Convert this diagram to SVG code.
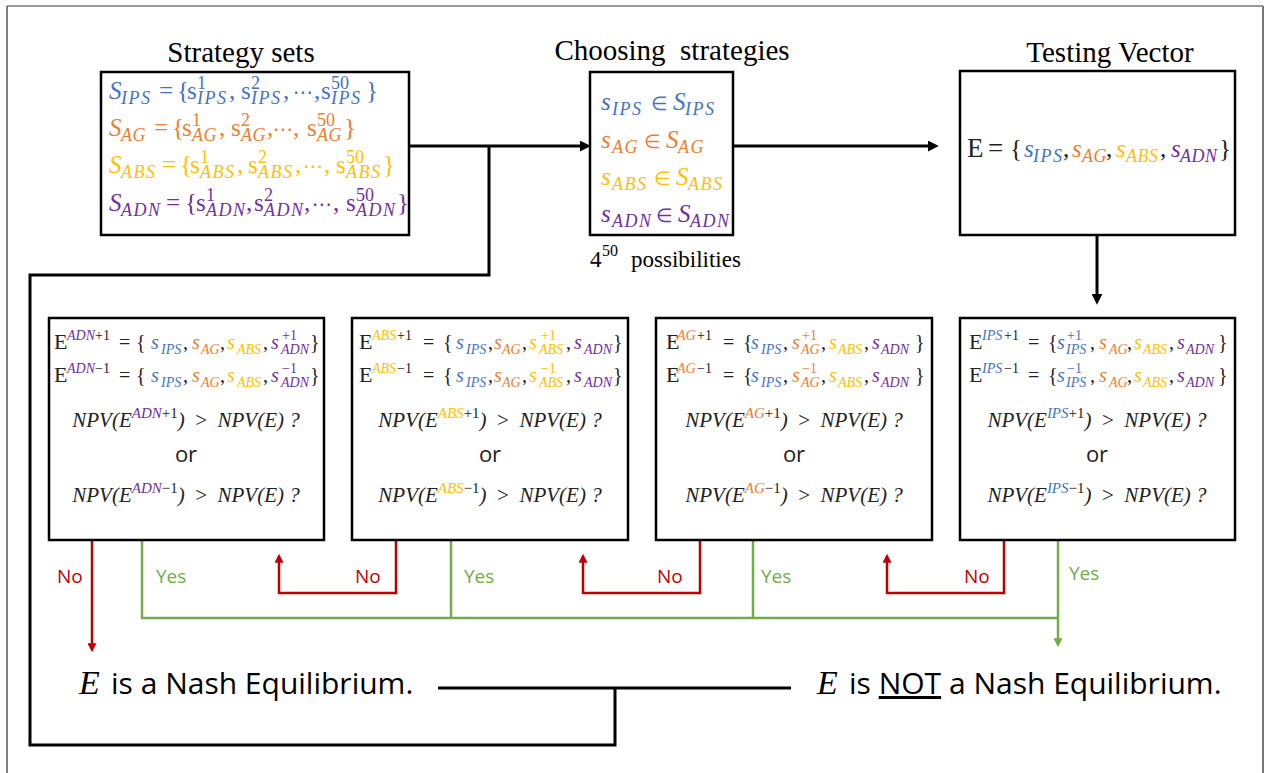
<svg xmlns="http://www.w3.org/2000/svg" width="1272" height="773" viewBox="0 0 1272 773">
<style>
.t{font-family:"Liberation Serif",serif;font-size:29px;fill:#000;text-anchor:middle}
.m{font-family:"Liberation Serif",serif}
.i{font-style:italic}
.u{font-style:normal}
.sb{font-style:italic;font-size:18px;letter-spacing:1.5px}
.sb2{font-style:italic;font-size:18px;letter-spacing:0.5px}
.sp{font-size:18px}
.sym{font-family:"DejaVu Sans",sans-serif;font-style:normal}
.sans{font-family:"Open Sans",sans-serif}
.cb{fill:#4472C4}.co{fill:#ED7D31}.cy{fill:#FFC000}.cp{fill:#7030A0}.ck{fill:#222}
.box{fill:#fff;stroke:#000;stroke-width:2.5}
.k{fill:none;stroke:#000;stroke-width:3}
.r{fill:none;stroke:#C00000;stroke-width:2.5}
.g{fill:none;stroke:#70AD47;stroke-width:2.5}
.lr{fill:#C00000;font-family:"Open Sans",sans-serif;font-size:19px}
.lg{fill:#70AD47;font-family:"Open Sans",sans-serif;font-size:19px}
</style>
<defs>
<marker id="ak" viewBox="0 0 10 10" refX="2" refY="5" markerWidth="11" markerHeight="11" markerUnits="userSpaceOnUse" orient="auto"><path d="M0,0L10,5L0,10z" fill="#000"/></marker>
<marker id="ar" viewBox="0 0 10 10" refX="2" refY="5" markerWidth="9" markerHeight="9" markerUnits="userSpaceOnUse" orient="auto"><path d="M0,0L10,5L0,10z" fill="#C00000"/></marker>
<marker id="ag" viewBox="0 0 10 10" refX="2" refY="5" markerWidth="9" markerHeight="9" markerUnits="userSpaceOnUse" orient="auto"><path d="M0,0L10,5L0,10z" fill="#70AD47"/></marker>
</defs>
<rect width="1272" height="773" fill="#fff"/>
<g id="frame">
<line x1="7" y1="6" x2="1263" y2="6" stroke="#9a9a9a" stroke-width="2"/>
<line x1="7" y1="6" x2="7" y2="773" stroke="#555" stroke-width="1.5"/>
<line x1="1263" y1="6" x2="1263" y2="773" stroke="#777" stroke-width="2"/>
</g>

<g id="connectors">
<path class="k" d="M409,146H582" marker-end="url(#ak)"/>
<path class="k" d="M489,146V275H30V745H615V688"/>
<path class="k" d="M438,688H791"/>
<path class="k" d="M733,146H930" marker-end="url(#ak)"/>
<path class="k" d="M1097,235V296" marker-end="url(#ak)"/>
<path class="r" d="M92,540V645" marker-end="url(#ar)"/>
<path class="r" d="M396,540V593H279V561" marker-end="url(#ar)"/>
<path class="r" d="M700,540V593H583V561" marker-end="url(#ar)"/>
<path class="r" d="M1004,540V593H887V561" marker-end="url(#ar)"/>
<path class="g" d="M142,540V618H1058"/>
<path class="g" d="M451,540V618"/>
<path class="g" d="M753,540V618"/>
<path class="g" d="M1058,540V640" marker-end="url(#ag)"/>
<text class="lr" x="57" y="583">No</text>
<text class="lg" x="156" y="583">Yes</text>
<text class="lr" x="355" y="583">No</text>
<text class="lg" x="464" y="583">Yes</text>
<text class="lr" x="657" y="583">No</text>
<text class="lg" x="761" y="583">Yes</text>
<text class="lr" x="964" y="583">No</text>
<text class="lg" x="1069" y="580">Yes</text>
</g>

<g id="strategy-sets">
<text class="t" x="241" y="62">Strategy sets</text>
<rect class="box" x="101" y="72" width="308" height="163"/>
<text class="m cb" font-size="25"><tspan class="i" x="109" y="99">S</tspan><tspan class="sb" x="121" y="104">IPS</tspan><tspan x="159" y="99">=</tspan><tspan x="177" y="99">{</tspan><tspan x="187" y="99">s</tspan><tspan class="sp" x="197" y="89">1</tspan><tspan class="sb" x="197" y="104">IPS</tspan><tspan x="229" y="99">,</tspan><tspan x="241" y="99">s</tspan><tspan class="sp" x="251" y="89">2</tspan><tspan class="sb" x="251" y="104">IPS</tspan><tspan x="283" y="99">,</tspan><tspan class="sym" x="293" y="99" font-size="20">⋯</tspan><tspan x="314" y="99">,</tspan><tspan x="321" y="99">s</tspan><tspan class="sp" x="331" y="89">50</tspan><tspan class="sb" x="331" y="104">IPS</tspan><tspan x="366" y="99">}</tspan></text>
<text class="m co" font-size="25"><tspan class="i" x="109" y="136">S</tspan><tspan class="sb2" x="121" y="141">AG</tspan><tspan x="154" y="136">=</tspan><tspan x="172" y="136">{</tspan><tspan x="182" y="136">s</tspan><tspan class="sp" x="192" y="126">1</tspan><tspan class="sb2" x="192" y="141">AG</tspan><tspan x="219" y="136">,</tspan><tspan x="231" y="136">s</tspan><tspan class="sp" x="241" y="126">2</tspan><tspan class="sb2" x="241" y="141">AG</tspan><tspan x="267" y="136">,</tspan><tspan class="sym" x="273" y="136" font-size="20">⋯</tspan><tspan x="293" y="136">,</tspan><tspan x="307" y="136">s</tspan><tspan class="sp" x="317" y="126">50</tspan><tspan class="sb2" x="317" y="141">AG</tspan><tspan x="344" y="136">}</tspan></text>
<text class="m cy" font-size="25"><tspan class="i" x="109" y="173">S</tspan><tspan class="sb" x="121" y="178">ABS</tspan><tspan x="162" y="173">=</tspan><tspan x="180" y="173">{</tspan><tspan x="190" y="173">s</tspan><tspan class="sp" x="200" y="163">1</tspan><tspan class="sb" x="200" y="178">ABS</tspan><tspan x="237" y="173">,</tspan><tspan x="248" y="173">s</tspan><tspan class="sp" x="258" y="163">2</tspan><tspan class="sb" x="258" y="178">ABS</tspan><tspan x="295" y="173">,</tspan><tspan class="sym" x="303" y="173" font-size="20">⋯</tspan><tspan x="324" y="173">,</tspan><tspan x="336" y="173">s</tspan><tspan class="sp" x="346" y="163">50</tspan><tspan class="sb" x="346" y="178">ABS</tspan><tspan x="383" y="173">}</tspan></text>
<text class="m cp" font-size="25"><tspan class="i" x="109" y="211">S</tspan><tspan class="sb" x="121" y="216" letter-spacing="1">ADN</tspan><tspan x="166" y="211">=</tspan><tspan x="185" y="211">{</tspan><tspan x="196" y="211">s</tspan><tspan class="sp" x="206" y="201">1</tspan><tspan class="sb" x="206" y="216" letter-spacing="1">ADN</tspan><tspan x="246" y="211">,</tspan><tspan x="254" y="211">s</tspan><tspan class="sp" x="264" y="201">2</tspan><tspan class="sb" x="264" y="216" letter-spacing="1">ADN</tspan><tspan x="304" y="211">,</tspan><tspan class="sym" x="312" y="211" font-size="20">⋯</tspan><tspan x="333" y="211">,</tspan><tspan x="346" y="211">s</tspan><tspan class="sp" x="356" y="201">50</tspan><tspan class="sb" x="356" y="216" letter-spacing="1">ADN</tspan><tspan x="397" y="211">}</tspan></text>
</g>

<g id="choosing-strategies">
<text class="t" x="672" y="60" xml:space="preserve">Choosing  strategies</text>
<rect class="box" x="590" y="72" width="143" height="163"/>
<text class="m i cb" font-size="25"><tspan x="601" y="110">s</tspan><tspan class="sb" x="612" y="115">IPS</tspan><tspan class="sym" x="651" y="110" font-size="19">∈</tspan><tspan x="673" y="110">S</tspan><tspan class="sb" x="685" y="115">IPS</tspan></text>
<text class="m i co" font-size="25"><tspan x="601" y="148">s</tspan><tspan class="sb" x="612" y="153">AG</tspan><tspan class="sym" x="644" y="148" font-size="19">∈</tspan><tspan x="666" y="148">S</tspan><tspan class="sb" x="678" y="153">AG</tspan></text>
<text class="m i cy" font-size="25"><tspan x="601" y="185">s</tspan><tspan class="sb" x="612" y="190">ABS</tspan><tspan class="sym" x="654" y="185" font-size="19">∈</tspan><tspan x="676" y="185">S</tspan><tspan class="sb" x="688" y="190">ABS</tspan></text>
<text class="m i cp" font-size="25"><tspan x="601" y="222">s</tspan><tspan class="sb" x="612" y="227" letter-spacing="1">ADN</tspan><tspan class="sym" x="656" y="222" font-size="19">∈</tspan><tspan x="678" y="222">S</tspan><tspan class="sb" x="690" y="227" letter-spacing="1">ADN</tspan></text>
<text class="m" font-size="23" fill="#000"><tspan x="590" y="267">4</tspan><tspan x="602" y="256" font-size="16">50</tspan><tspan x="631" y="267">possibilities</tspan></text>
</g>

<g id="testing-vector">
<text class="t" x="1110" y="62">Testing Vector</text>
<rect class="box" x="960" y="71" width="275" height="164"/>
<text class="m" font-size="25"><tspan class="ck" x="967" y="157" font-size="27">E</tspan><tspan class="ck" x="988" y="157" font-size="27">=</tspan><tspan class="ck" x="1010" y="157">{</tspan><tspan class="i cb" x="1024" y="157">s</tspan><tspan class="sb cb" x="1033" y="162">IPS</tspan><tspan class="ck" x="1063" y="157">,</tspan><tspan class="i co" x="1072" y="157">s</tspan><tspan class="sb2 co" x="1082" y="162">AG</tspan><tspan class="ck" x="1106" y="157">,</tspan><tspan class="i cy" x="1116" y="157">s</tspan><tspan class="sb2 cy" x="1126" y="162">ABS</tspan><tspan class="ck" x="1160" y="157">,</tspan><tspan class="i cp" x="1171" y="157">s</tspan><tspan class="sb2 cp" x="1180" y="162">ADN</tspan><tspan class="ck" x="1219" y="157">}</tspan></text>
</g>

<g id="test-adn">
<rect class="box" x="49" y="318" width="275" height="222"/>
<text class="m" font-size="20"><tspan class="ck" x="54" y="349" font-size="22">E</tspan><tspan class="i cp" x="67" y="340" font-size="14">ADN</tspan><tspan class="ck" x="95" y="340" font-size="14">+1</tspan><tspan class="ck" x="119" y="349">=</tspan><tspan class="ck" x="136" y="349">{</tspan><tspan class="i cb" x="151" y="349">s</tspan><tspan class="i cb" x="161" y="354" font-size="14">IPS</tspan><tspan class="ck" x="183" y="349">,</tspan><tspan class="i co" x="192" y="349">s</tspan><tspan class="i co" x="201" y="354" font-size="14">AG</tspan><tspan class="ck" x="220" y="349">,</tspan><tspan class="i cy" x="227" y="349">s</tspan><tspan class="i cy" x="237" y="354" font-size="14">ABS</tspan><tspan class="ck" x="263" y="349">,</tspan><tspan class="i cp" x="271" y="349">s</tspan><tspan class="cp" x="282" y="340" font-size="14">+1</tspan><tspan class="i cp" x="281" y="354" font-size="14">ADN</tspan><tspan class="ck" x="310" y="349">}</tspan></text>
<text class="m" font-size="20"><tspan class="ck" x="54" y="382" font-size="22">E</tspan><tspan class="i cp" x="67" y="373" font-size="14">ADN</tspan><tspan class="ck" x="95" y="373" font-size="14">−1</tspan><tspan class="ck" x="119" y="382">=</tspan><tspan class="ck" x="136" y="382">{</tspan><tspan class="i cb" x="151" y="382">s</tspan><tspan class="i cb" x="161" y="387" font-size="14">IPS</tspan><tspan class="ck" x="183" y="382">,</tspan><tspan class="i co" x="192" y="382">s</tspan><tspan class="i co" x="201" y="387" font-size="14">AG</tspan><tspan class="ck" x="220" y="382">,</tspan><tspan class="i cy" x="227" y="382">s</tspan><tspan class="i cy" x="237" y="387" font-size="14">ABS</tspan><tspan class="ck" x="263" y="382">,</tspan><tspan class="i cp" x="271" y="382">s</tspan><tspan class="cp" x="282" y="373" font-size="14">−1</tspan><tspan class="i cp" x="281" y="387" font-size="14">ADN</tspan><tspan class="ck" x="310" y="382">}</tspan></text>
<text class="m i ck" font-size="21" x="186" y="427" text-anchor="middle" xml:space="preserve">NPV(E<tspan class="cp" dy="-9" font-size="15">ADN</tspan><tspan class="u" font-size="15">+1</tspan><tspan dy="9">)  <tspan class="u">&gt;</tspan>  NPV(E) ?</tspan></text>
<text class="sans ck" font-size="22" x="186" y="462" text-anchor="middle">or</text>
<text class="m i ck" font-size="21" x="186" y="502" text-anchor="middle" xml:space="preserve">NPV(E<tspan class="cp" dy="-9" font-size="15">ADN</tspan><tspan class="u" font-size="15">−1</tspan><tspan dy="9">)  <tspan class="u">&gt;</tspan>  NPV(E) ?</tspan></text>
</g>

<g id="test-abs">
<rect class="box" x="352" y="318" width="276" height="222"/>
<text class="m" font-size="20"><tspan class="ck" x="359" y="349" font-size="22">E</tspan><tspan class="i cy" x="372" y="340" font-size="14">ABS</tspan><tspan class="ck" x="397" y="340" font-size="14">+1</tspan><tspan class="ck" x="423" y="349">=</tspan><tspan class="ck" x="443" y="349">{</tspan><tspan class="i cb" x="456" y="349">s</tspan><tspan class="i cb" x="466" y="354" font-size="14">IPS</tspan><tspan class="ck" x="488" y="349">,</tspan><tspan class="i co" x="494" y="349">s</tspan><tspan class="i co" x="502" y="354" font-size="14">AG</tspan><tspan class="ck" x="522" y="349">,</tspan><tspan class="i cy" x="529" y="349">s</tspan><tspan class="cy" x="541" y="340" font-size="14">+1</tspan><tspan class="i cy" x="539" y="354" font-size="14">ABS</tspan><tspan class="ck" x="566" y="349">,</tspan><tspan class="i cp" x="574" y="349">s</tspan><tspan class="i cp" x="584" y="354" font-size="14">ADN</tspan><tspan class="ck" x="613" y="349">}</tspan></text>
<text class="m" font-size="20"><tspan class="ck" x="359" y="382" font-size="22">E</tspan><tspan class="i cy" x="372" y="373" font-size="14">ABS</tspan><tspan class="ck" x="397" y="373" font-size="14">−1</tspan><tspan class="ck" x="423" y="382">=</tspan><tspan class="ck" x="443" y="382">{</tspan><tspan class="i cb" x="456" y="382">s</tspan><tspan class="i cb" x="466" y="387" font-size="14">IPS</tspan><tspan class="ck" x="488" y="382">,</tspan><tspan class="i co" x="494" y="382">s</tspan><tspan class="i co" x="502" y="387" font-size="14">AG</tspan><tspan class="ck" x="522" y="382">,</tspan><tspan class="i cy" x="529" y="382">s</tspan><tspan class="cy" x="541" y="373" font-size="14">−1</tspan><tspan class="i cy" x="539" y="387" font-size="14">ABS</tspan><tspan class="ck" x="566" y="382">,</tspan><tspan class="i cp" x="574" y="382">s</tspan><tspan class="i cp" x="584" y="387" font-size="14">ADN</tspan><tspan class="ck" x="613" y="382">}</tspan></text>
<text class="m i ck" font-size="21" x="490" y="427" text-anchor="middle" xml:space="preserve">NPV(E<tspan class="cy" dy="-9" font-size="15">ABS</tspan><tspan class="u" font-size="15">+1</tspan><tspan dy="9">)  <tspan class="u">&gt;</tspan>  NPV(E) ?</tspan></text>
<text class="sans ck" font-size="22" x="490" y="462" text-anchor="middle">or</text>
<text class="m i ck" font-size="21" x="490" y="502" text-anchor="middle" xml:space="preserve">NPV(E<tspan class="cy" dy="-9" font-size="15">ABS</tspan><tspan class="u" font-size="15">−1</tspan><tspan dy="9">)  <tspan class="u">&gt;</tspan>  NPV(E) ?</tspan></text>
</g>

<g id="test-ag">
<rect class="box" x="656" y="318" width="276" height="222"/>
<text class="m" font-size="20"><tspan class="ck" x="666" y="349" font-size="22">E</tspan><tspan class="i co" x="677" y="340" font-size="14">AG</tspan><tspan class="ck" x="697" y="340" font-size="14">+1</tspan><tspan class="ck" x="723" y="349">=</tspan><tspan class="ck" x="743" y="349">{</tspan><tspan class="i cb" x="751" y="349">s</tspan><tspan class="i cb" x="761" y="354" font-size="14">IPS</tspan><tspan class="ck" x="783" y="349">,</tspan><tspan class="i co" x="792" y="349">s</tspan><tspan class="co" x="802" y="340" font-size="14">+1</tspan><tspan class="i co" x="801" y="354" font-size="14">AG</tspan><tspan class="ck" x="821" y="349">,</tspan><tspan class="i cy" x="829" y="349">s</tspan><tspan class="i cy" x="838" y="354" font-size="14">ABS</tspan><tspan class="ck" x="864" y="349">,</tspan><tspan class="i cp" x="872" y="349">s</tspan><tspan class="i cp" x="881" y="354" font-size="14">ADN</tspan><tspan class="ck" x="915" y="349">}</tspan></text>
<text class="m" font-size="20"><tspan class="ck" x="666" y="382" font-size="22">E</tspan><tspan class="i co" x="677" y="373" font-size="14">AG</tspan><tspan class="ck" x="697" y="373" font-size="14">−1</tspan><tspan class="ck" x="723" y="382">=</tspan><tspan class="ck" x="743" y="382">{</tspan><tspan class="i cb" x="751" y="382">s</tspan><tspan class="i cb" x="761" y="387" font-size="14">IPS</tspan><tspan class="ck" x="783" y="382">,</tspan><tspan class="i co" x="792" y="382">s</tspan><tspan class="co" x="802" y="373" font-size="14">−1</tspan><tspan class="i co" x="801" y="387" font-size="14">AG</tspan><tspan class="ck" x="821" y="382">,</tspan><tspan class="i cy" x="829" y="382">s</tspan><tspan class="i cy" x="838" y="387" font-size="14">ABS</tspan><tspan class="ck" x="864" y="382">,</tspan><tspan class="i cp" x="872" y="382">s</tspan><tspan class="i cp" x="881" y="387" font-size="14">ADN</tspan><tspan class="ck" x="915" y="382">}</tspan></text>
<text class="m i ck" font-size="21" x="794" y="427" text-anchor="middle" xml:space="preserve">NPV(E<tspan class="co" dy="-9" font-size="15">AG</tspan><tspan class="u" font-size="15">+1</tspan><tspan dy="9">)  <tspan class="u">&gt;</tspan>  NPV(E) ?</tspan></text>
<text class="sans ck" font-size="22" x="794" y="462" text-anchor="middle">or</text>
<text class="m i ck" font-size="21" x="794" y="502" text-anchor="middle" xml:space="preserve">NPV(E<tspan class="co" dy="-9" font-size="15">AG</tspan><tspan class="u" font-size="15">−1</tspan><tspan dy="9">)  <tspan class="u">&gt;</tspan>  NPV(E) ?</tspan></text>
</g>

<g id="test-ips">
<rect class="box" x="960" y="318" width="275" height="222"/>
<text class="m" font-size="20"><tspan class="ck" x="969" y="349" font-size="22">E</tspan><tspan class="i cb" x="982" y="340" font-size="14">IPS</tspan><tspan class="ck" x="1004" y="340" font-size="14">+1</tspan><tspan class="ck" x="1028" y="349">=</tspan><tspan class="ck" x="1048" y="349">{</tspan><tspan class="i cb" x="1057" y="349">s</tspan><tspan class="cb" x="1067" y="340" font-size="14">+1</tspan><tspan class="i cb" x="1066" y="354" font-size="14">IPS</tspan><tspan class="ck" x="1090" y="349">,</tspan><tspan class="i co" x="1099" y="349">s</tspan><tspan class="i co" x="1109" y="354" font-size="14">AG</tspan><tspan class="ck" x="1127" y="349">,</tspan><tspan class="i cy" x="1134" y="349">s</tspan><tspan class="i cy" x="1143" y="354" font-size="14">ABS</tspan><tspan class="ck" x="1169" y="349">,</tspan><tspan class="i cp" x="1177" y="349">s</tspan><tspan class="i cp" x="1186" y="354" font-size="14">ADN</tspan><tspan class="ck" x="1218" y="349">}</tspan></text>
<text class="m" font-size="20"><tspan class="ck" x="969" y="382" font-size="22">E</tspan><tspan class="i cb" x="982" y="373" font-size="14">IPS</tspan><tspan class="ck" x="1004" y="373" font-size="14">−1</tspan><tspan class="ck" x="1028" y="382">=</tspan><tspan class="ck" x="1048" y="382">{</tspan><tspan class="i cb" x="1057" y="382">s</tspan><tspan class="cb" x="1067" y="373" font-size="14">−1</tspan><tspan class="i cb" x="1066" y="387" font-size="14">IPS</tspan><tspan class="ck" x="1090" y="382">,</tspan><tspan class="i co" x="1099" y="382">s</tspan><tspan class="i co" x="1109" y="387" font-size="14">AG</tspan><tspan class="ck" x="1127" y="382">,</tspan><tspan class="i cy" x="1134" y="382">s</tspan><tspan class="i cy" x="1143" y="387" font-size="14">ABS</tspan><tspan class="ck" x="1169" y="382">,</tspan><tspan class="i cp" x="1177" y="382">s</tspan><tspan class="i cp" x="1186" y="387" font-size="14">ADN</tspan><tspan class="ck" x="1218" y="382">}</tspan></text>
<text class="m i ck" font-size="21" x="1097" y="427" text-anchor="middle" xml:space="preserve">NPV(E<tspan class="cb" dy="-9" font-size="15">IPS</tspan><tspan class="u" font-size="15">+1</tspan><tspan dy="9">)  <tspan class="u">&gt;</tspan>  NPV(E) ?</tspan></text>
<text class="sans ck" font-size="22" x="1097" y="462" text-anchor="middle">or</text>
<text class="m i ck" font-size="21" x="1097" y="502" text-anchor="middle" xml:space="preserve">NPV(E<tspan class="cb" dy="-9" font-size="15">IPS</tspan><tspan class="u" font-size="15">−1</tspan><tspan dy="9">)  <tspan class="u">&gt;</tspan>  NPV(E) ?</tspan></text>
</g>

<g id="nash">
<text fill="#000"><tspan class="m i" x="79" y="694" font-size="34">E</tspan><tspan class="sans" x="111" y="694" font-size="30">is a Nash Equilibrium.</tspan></text>
</g>
<g id="not-nash">
<text fill="#000"><tspan class="m i" x="817" y="694" font-size="34">E</tspan><tspan class="sans" x="849" y="694" font-size="30">is <tspan text-decoration="underline">NOT</tspan> a Nash Equilibrium.</tspan></text>
</g>
</svg>
